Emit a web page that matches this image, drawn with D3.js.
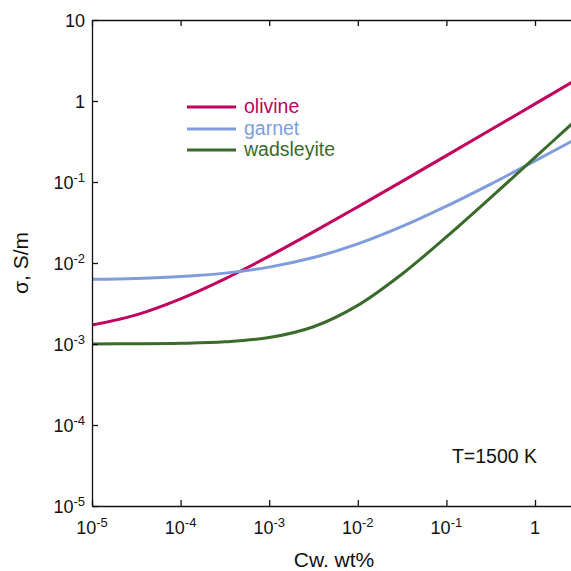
<!DOCTYPE html>
<html>
<head>
<meta charset="utf-8">
<script src="https://cdn.jsdelivr.net/npm/d3@7"></script>
<style>
  html, body { margin: 0; padding: 0; background: #fff; }
  svg { display: block; font-family: "Liberation Sans", Arial, sans-serif; }
</style>
</head>
<body>
<svg id="chart" width="571" height="571"></svg>
<script>
// Water content (wt%) at half-decade steps
const cw = [1e-5, 3.162e-5, 1e-4, 3.162e-4, 1e-3, 3.162e-3, 1e-2, 3.162e-2, 1e-1, 3.162e-1, 1, 3.162];

// Electrical conductivity (S/m) for each mineral at T = 1500 K
const olivine     = [1.71e-3, 2.29e-3, 3.61e-3, 6.37e-3, 1.214e-2, 2.419e-2, 4.936e-2, 0.1019, 0.2119, 0.4414, 0.921, 1.923];
const garnet      = [6.28e-3, 6.45e-3, 6.80e-3, 7.50e-3, 8.89e-3, 1.167e-2, 1.720e-2, 2.826e-2, 5.03e-2, 9.43e-2, 0.1821, 0.3573];
const wadsleyite  = [1.002e-3, 1.006e-3, 1.02e-3, 1.063e-3, 1.2e-3, 1.632e-3, 3.0e-3, 7.32e-3, 2.1e-2, 6.42e-2, 0.201, 0.633];

const seriesNames  = ["olivine", "garnet", "wadsleyite"];
const seriesColors = ["#c2005f", "#7f9ddc", "#3a6b2b"];

const xTicks = [1e-5, 1e-4, 1e-3, 1e-2, 1e-1, 1];
const xTickLabels = [["10", "-5"], ["10", "-4"], ["10", "-3"], ["10", "-2"], ["10", "-1"], ["1", ""]];
const yTicks = [1e-5, 1e-4, 1e-3, 1e-2, 1e-1, 1, 10];
const yTickLabels = [["10", "-5"], ["10", "-4"], ["10", "-3"], ["10", "-2"], ["10", "-1"], ["1", ""], ["10", ""]];

const svg = d3.select("#chart");
const plotLeft = 92, plotTop = 20, plotBottom = 506;
const decadeX = 88.6;

const x = d3.scaleLog().domain([1e-5, 10]).range([plotLeft, plotLeft + 6 * decadeX]);
const y = d3.scaleLog().domain([1e-5, 10]).range([plotBottom, plotTop]);

// clip to plotting area
svg.append("defs").append("clipPath").attr("id", "plotclip")
  .append("rect").attr("x", plotLeft).attr("y", plotTop).attr("width", 600).attr("height", plotBottom - plotTop);

// curves
const line = d3.line()
  .x(d => x(d[0]))
  .y(d => y(d[1]))
  .curve(d3.curveCatmullRom.alpha(0.5));

const allSeries = [olivine, garnet, wadsleyite];
const gLines = svg.append("g").attr("clip-path", "url(#plotclip)");
allSeries.forEach((vals, i) => {
  gLines.append("path")
    .datum(cw.map((c, j) => [c, vals[j]]))
    .attr("d", line)
    .attr("fill", "none")
    .attr("stroke", seriesColors[i])
    .attr("stroke-width", 3);
});

// axes (ticks point inward)
const axisColor = "#111";
const tickLen = 6;

function styleAxis(g) {
  g.select(".domain").attr("stroke", axisColor).attr("stroke-width", 1.3);
  g.selectAll(".tick line").attr("stroke", axisColor).attr("stroke-width", 1.3);
  g.selectAll(".tick text").remove();
}

svg.append("g").attr("transform", `translate(0,${plotBottom})`)
  .call(d3.axisBottom(x).tickValues(xTicks).tickSizeInner(-tickLen).tickSizeOuter(0))
  .call(styleAxis);
svg.append("g").attr("transform", `translate(0,${plotTop})`)
  .call(d3.axisTop(x).tickValues(xTicks).tickSizeInner(-tickLen).tickSizeOuter(0))
  .call(styleAxis);
svg.append("g").attr("transform", `translate(${plotLeft},0)`)
  .call(d3.axisLeft(y).tickValues(yTicks).tickSizeInner(-tickLen).tickSizeOuter(0))
  .call(styleAxis);

// tick labels with superscripts
const tickFont = 18, supFont = 13;
xTicks.forEach((t, i) => {
  const [base, exp] = xTickLabels[i];
  const txt = svg.append("text")
    .attr("x", x(t)).attr("y", 534)
    .attr("text-anchor", "middle")
    .attr("font-size", tickFont).attr("fill", "#111");
  txt.append("tspan").text(base);
  if (exp) txt.append("tspan").attr("font-size", supFont).attr("dy", -7).text(exp);
});
yTicks.forEach((t, i) => {
  const [base, exp] = yTickLabels[i];
  const txt = svg.append("text")
    .attr("x", 85).attr("y", y(t) + 6.5)
    .attr("text-anchor", "end")
    .attr("font-size", tickFont).attr("fill", "#111");
  txt.append("tspan").text(base);
  if (exp) txt.append("tspan").attr("font-size", supFont).attr("dy", -7).text(exp);
});

// axis titles
svg.append("text")
  .attr("x", 334).attr("y", 567)
  .attr("text-anchor", "middle")
  .attr("font-size", 21).attr("fill", "#111")
  .text("Cw. wt%");
svg.append("text")
  .attr("transform", `translate(28,263) rotate(-90)`)
  .attr("text-anchor", "middle")
  .attr("font-size", 21).attr("fill", "#111")
  .text("σ, S/m");

// temperature note
svg.append("text")
  .attr("x", 537).attr("y", 463)
  .attr("text-anchor", "end")
  .attr("font-size", 19.5).attr("fill", "#111")
  .text("T=1500 K");

// legend
const legendY = [107, 129, 150];
seriesNames.forEach((name, i) => {
  svg.append("line")
    .attr("x1", 187).attr("x2", 236)
    .attr("y1", legendY[i]).attr("y2", legendY[i])
    .attr("stroke", seriesColors[i]).attr("stroke-width", 3);
  svg.append("text")
    .attr("x", 244).attr("y", legendY[i] + 5.5)
    .attr("font-size", 19.5).attr("fill", seriesColors[i])
    .text(name);
});
</script>
</body>
</html>
